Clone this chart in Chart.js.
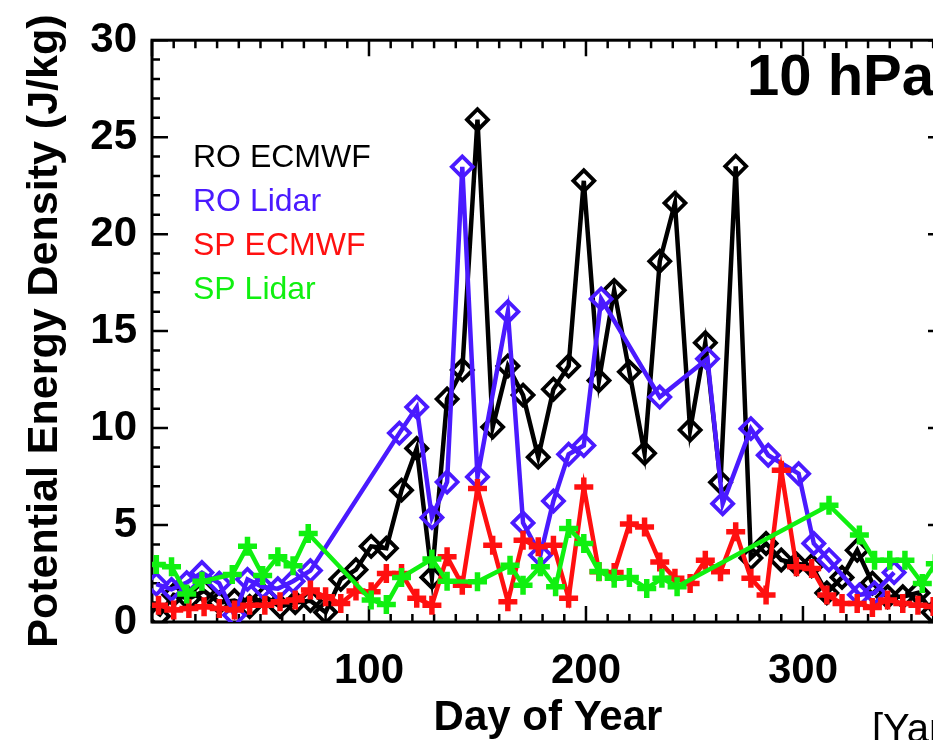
<!DOCTYPE html>
<html><head><meta charset="utf-8">
<script src="https://cdn.jsdelivr.net/npm/chart.js@4"></script>
<style>html,body{margin:0;padding:0;overflow:hidden;background:#fff;width:933px;height:740px}</style>
</head><body>
<canvas id="c" width="1000" height="740"></canvas>
<script>
// ---- data ----
const roEcmwfDays = [3,10,17,24,31,38,45,52,59,66,73,80,87,94,101,108,115,122,129,136,143,150,157,164,171,178,185,192,199,206,213,220,227,234,241,248,255,262,269,276,283,290,297,304,311,318,325,332,339,346,353,360];
const roEcmwfValues = [0.3,1.4,1.2,1.6,1.0,1.1,0.8,1.3,0.8,1.0,1.1,0.5,2.2,2.7,3.9,3.8,6.8,8.95,2.3,11.5,13.0,25.9,10.05,13.2,11.7,8.5,12.0,13.2,22.75,12.45,17.1,12.9,8.7,18.6,21.6,9.9,14.4,7.2,23.5,3.3,4.05,3.2,3.0,2.9,1.5,2.3,3.7,2.0,1.3,1.3,1.5,0.5];

const roLidarDays = [2,9,16,23,31,38,44,51,58,65,73,114,122,129,136,143,150,164,171,179,185,192,199,207,234,256,263,276,284,298,305,312,326,333,342];
const roLidarValues = [1.95,1.68,2.03,2.55,2.0,0.36,2.2,1.8,1.72,2.1,2.65,9.74,11.08,5.39,7.22,23.47,7.48,16.0,5.11,3.45,6.24,8.65,9.1,16.66,11.6,13.57,6.1,9.97,8.6,7.65,4.05,3.2,1.4,1.5,2.55];

const spEcmwfDays = roEcmwfDays;
const spEcmwfValues = [0.87,0.62,0.7,0.79,0.7,0.62,0.87,0.87,1.05,1.13,1.65,1.3,0.96,1.6,1.56,2.5,2.5,1.22,0.87,3.36,1.9,6.88,3.96,1.05,4.22,3.88,3.96,1.22,6.96,2.59,2.55,5.05,4.9,3.1,2.25,1.99,3.19,2.59,4.65,2.25,1.39,7.82,2.85,2.76,1.39,0.96,0.96,0.75,1.13,0.96,0.87,0.8];

const spLidarDays = [2,9,16,23,37,44,51,58,65,72,101,108,115,129,136,150,165,171,179,186,192,199,206,213,220,228,235,242,312,326,333,340,347,355,361];
const spLidarValues = [2.97,2.85,1.45,2.1,2.45,3.9,2.4,3.36,2.9,4.56,1.13,0.9,2.3,3.25,2.1,2.07,2.93,1.9,2.85,1.82,4.82,4.05,2.6,2.25,2.3,1.73,2.25,1.82,6.02,4.48,3.19,3.19,3.19,1.99,3.0];

const seriesLabels = ['RO ECMWF','RO Lidar','SP ECMWF','SP Lidar'];
const seriesColors = ['#000000','#4a1aff','#ff1010','#10f010'];
const xMin = 0, xMax = 365, xMajor = 100, xMinor = 10;
const yMin = 0, yMax = 30, yMajor = 5, yMinor = 1;
const panelLabel = '10 hPa';
const sourceLabel = '[Yamashita et al.]';

const pts = (d, v) => d.map((x, i) => ({x, y: v[i]}));

function ds(i, days, vals, style, order){
  const c = seriesColors[i];
  return {
    label: seriesLabels[i], data: pts(days, vals), order,
    borderColor: c, borderWidth: 4.5, tension: 0,
    pointStyle: style, pointRadius: style === 'cross' ? 9.5 : 10.5,
    pointBorderWidth: style === 'cross' ? 5.5 : 3.8,
    pointBorderColor: c, pointBackgroundColor: 'rgba(0,0,0,0)',
    pointHoverRadius: 10
  };
}

const decor = {
  id: 'decor',
  beforeDatasetsDraw(chart){
    const {ctx, chartArea: a, scales: {x, y}} = chart;
    ctx.save();
    ctx.strokeStyle = '#000';
    ctx.lineWidth = 2.5;
    ctx.beginPath();
    for (let d = xMin; d <= xMax; d += xMinor){
      const px = x.getPixelForValue(d);
      const L = d % xMajor === 0 ? 16 : 8;
      ctx.moveTo(px, a.bottom); ctx.lineTo(px, a.bottom - L);
      ctx.moveTo(px, a.top); ctx.lineTo(px, a.top + L);
    }
    for (let v = yMin; v <= yMax; v += yMinor){
      const py = y.getPixelForValue(v);
      const L = v % yMajor === 0 ? 16 : 8;
      ctx.moveTo(a.left, py); ctx.lineTo(a.left + L, py);
      ctx.moveTo(a.right, py); ctx.lineTo(a.right - L, py);
    }
    ctx.stroke();
    ctx.lineWidth = 3;
    ctx.strokeRect(a.left, a.top, a.right - a.left, a.bottom - a.top);
    // legend
    ctx.font = '32px "Liberation Sans", Arial, sans-serif';
    ctx.textBaseline = 'middle';
    ctx.textAlign = 'left';
    seriesLabels.forEach((t, i) => { ctx.fillStyle = seriesColors[i]; ctx.fillText(t, 193, 158 + i * 44); });
    // panel label
    ctx.fillStyle = '#000';
    ctx.textBaseline = 'alphabetic';
    ctx.font = 'bold 58px "Liberation Sans", Arial, sans-serif';
    ctx.fillText(panelLabel, 747, 95);
    ctx.font = '40px "Liberation Sans", Arial, sans-serif';
    ctx.fillText(sourceLabel, 872, 742);
    ctx.restore();
  }
};

new Chart(document.getElementById('c'), {
  type: 'line',
  data: { datasets: [
    ds(0, roEcmwfDays, roEcmwfValues, 'rectRot', 4),
    ds(1, roLidarDays, roLidarValues, 'rectRot', 3),
    ds(2, spEcmwfDays, spEcmwfValues, 'cross', 2),
    ds(3, spLidarDays, spLidarValues, 'cross', 1)
  ]},
  options: {
    responsive: false, animation: false, devicePixelRatio: 1, events: [],
    layout: { padding: { top: 39, right: 56, left: 0, bottom: 0 } },
    plugins: { legend: { display: false }, tooltip: { enabled: false } },
    scales: {
      x: {
        type: 'linear', min: xMin, max: xMax,
        grid: { display: false, drawTicks: false }, border: { display: false },
        ticks: { stepSize: xMajor, includeBounds: false, autoSkip: false, maxRotation: 0, padding: 24,
          color: '#000', font: { family: '"Liberation Sans", Arial, sans-serif', weight: 'bold', size: 42 },
          callback: v => v === 0 ? '' : v },
        title: { display: true, text: 'Day of Year', color: '#000',
          font: { family: '"Liberation Sans", Arial, sans-serif', weight: 'bold', size: 42, lineHeight: 1 },
          padding: { top: 0, bottom: 1 } },
        afterFit: s => { s.height = 118; }
      },
      y: {
        type: 'linear', min: yMin, max: yMax,
        grid: { display: false, drawTicks: false }, border: { display: false },
        ticks: { stepSize: yMajor, padding: 15, color: '#000',
          font: { family: '"Liberation Sans", Arial, sans-serif', weight: 'bold', size: 42 } },
        title: { display: true, text: 'Potential Energy Density (J/kg)', color: '#000',
          font: { family: '"Liberation Sans", Arial, sans-serif', weight: 'bold', size: 43, lineHeight: 1 },
          padding: { top: 24, bottom: 0 } },
        afterFit: s => { s.width = 152; }
      }
    }
  },
  plugins: [decor]
});
</script></body></html>
